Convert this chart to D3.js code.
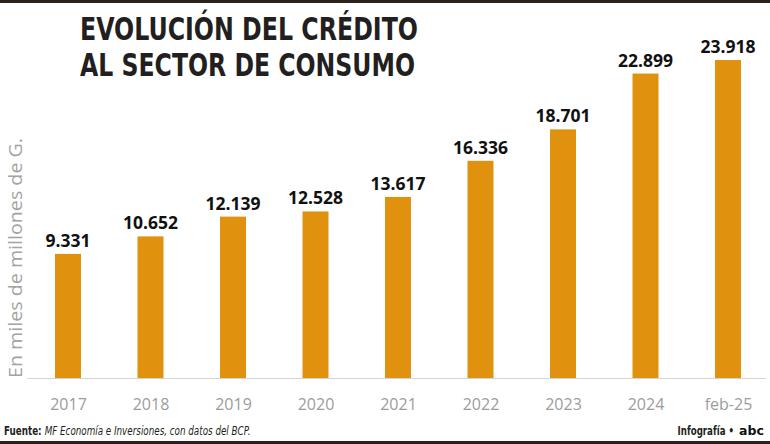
<!DOCTYPE html>
<html><head><meta charset="utf-8">
<script src="https://cdn.jsdelivr.net/npm/d3@7"></script>
<style>html,body{margin:0;padding:0;background:#fff;}svg{display:block;}</style>
</head><body>
<svg id="c" width="770" height="444"></svg>
<script>
const categories = ["2017","2018","2019","2020","2021","2022","2023","2024","feb-25"];
const values = [9331,10652,12139,12528,13617,16336,18701,22899,23918];
const valueLabels = ["9.331","10.652","12.139","12.528","13.617","16.336","18.701","22.899","23.918"];
const titleLines = ["EVOLUCIÓN DEL CRÉDITO","AL SECTOR DE CONSUMO"];
const yAxisLabel = "En miles de millones de G.";

const svg = d3.select("#c");
const W = 770, H = 444;
const condensed = "'Liberation Sans Narrow','DejaVu Sans Condensed','Roboto Condensed',sans-serif";

// frame lines
svg.append("rect").attr("x",0).attr("y",0).attr("width",W).attr("height",3).attr("fill","#2b211c");
svg.append("rect").attr("x",0).attr("y",441).attr("width",W).attr("height",3).attr("fill","#2b211c");

// title
svg.selectAll("text.title").data(titleLines).join("text")
  .attr("class","title")
  .attr("x",80).attr("y",(d,i)=>40+i*36)
  .attr("font-family",condensed).attr("font-weight","bold").attr("font-size",32)
  .attr("fill","#231f20")
  .attr("textLength",(d,i)=>i===0?338:335).attr("lengthAdjust","spacingAndGlyphs")
  .text(d=>d);

const x = d3.scalePoint().domain(categories).range([68,728]);
const y = d3.scaleLinear().domain([0,23918]).range([378,60]);
const bw = 26;

// baseline
svg.append("line").attr("x1",27).attr("x2",766).attr("y1",378.5).attr("y2",378.5)
  .attr("stroke","#d4d4d4").attr("stroke-width",1);

// bars
svg.selectAll("rect.bar").data(values).join("rect")
  .attr("class","bar")
  .attr("x",(d,i)=>x(categories[i])-bw/2)
  .attr("y",d=>y(d))
  .attr("width",bw)
  .attr("height",d=>y(0)-y(d))
  .attr("fill","#e0920f");

// value labels
svg.selectAll("text.val").data(values).join("text")
  .attr("class","val")
  .attr("x",(d,i)=>x(categories[i]))
  .attr("y",d=>y(d)-7)
  .attr("text-anchor","middle")
  .attr("font-family","'Open Sans',sans-serif").attr("font-weight","bold").attr("font-size",17.5)
  .attr("fill","#111")
  .text((d,i)=>valueLabels[i]);

// x axis labels
const xAxis = d3.axisBottom(x).tickSize(0).tickPadding(0);
const gx = svg.append("g").attr("transform","translate(0,410)").call(xAxis);
gx.select(".domain").remove();
gx.selectAll("text")
  .attr("dy",0).attr("y",0)
  .attr("font-family","'Open Sans',sans-serif").attr("font-weight",400).attr("font-size",16)
  .attr("fill","#9c9c9c");

// y label
svg.append("text")
  .attr("transform","translate(22,378) rotate(-90)")
  .attr("x",0).attr("y",0)
  .attr("font-family","'Open Sans',sans-serif").attr("font-weight",400).attr("font-size",19)
  .attr("fill","#a3a3a3")
  .attr("textLength",240).attr("lengthAdjust","spacingAndGlyphs")
  .text(yAxisLabel);

// source (horizontally condensed via scale)
const srcG = svg.append("g").attr("transform","translate(4,435) scale(0.75,1)");
const src = srcG.append("text").attr("x",0).attr("y",0)
  .attr("font-family",condensed).attr("font-size",13).attr("fill","#231f20");
src.append("tspan").attr("font-weight","bold").text("Fuente: ");
src.append("tspan").attr("font-style","italic").text("MF Economía e Inversiones, con datos del BCP.");

// credit
svg.append("g").attr("transform","translate(734,435) scale(0.74,1)")
  .append("text").attr("x",0).attr("y",0).attr("text-anchor","end")
  .attr("font-family",condensed).attr("font-weight","bold").attr("font-size",13)
  .attr("fill","#231f20").text("Infografía •");
svg.append("text").attr("x",739).attr("y",435)
  .attr("font-family","'DejaVu Sans',sans-serif").attr("font-weight","bold").attr("font-size",12.5)
  .attr("fill","#111").text("abc");
</script>
</body></html>
